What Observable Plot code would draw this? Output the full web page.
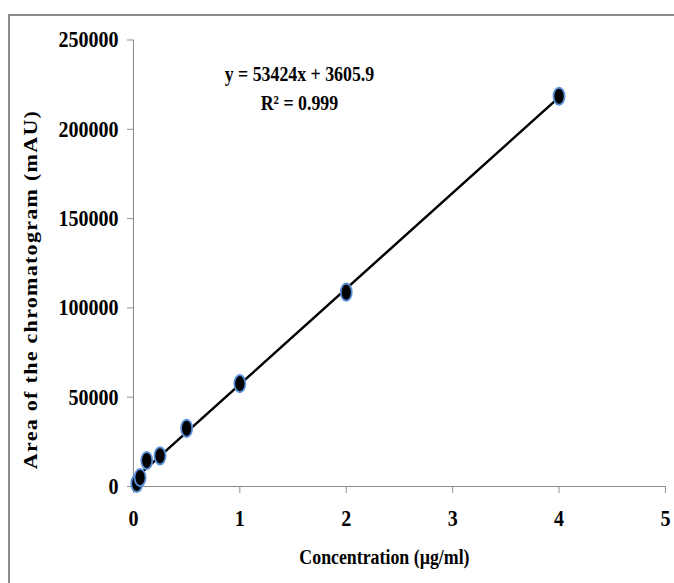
<!DOCTYPE html>
<html>
<head>
<meta charset="utf-8">
<script src="https://cdn.jsdelivr.net/npm/d3@7"></script>
<script src="https://cdn.jsdelivr.net/npm/@observablehq/plot@0.6"></script>
<style>
  html, body { margin: 0; padding: 0; background: #fff; }
  #wrap { position: relative; width: 674px; height: 583px; overflow: hidden; }
  #box { position: absolute; left: 8px; top: 14px; width: 720px; height: 620px;
         border-left: 2px solid #8c8c8c; border-top: 2px solid #8c8c8c; }
  #chart { position: absolute; left: 0; top: 0; transform-origin: 0 0; }
  #chart svg { max-width: none !important; }
  #chart svg [aria-label*="axis"] line,
  #chart svg [aria-label*="axis"] path { stroke: #8a8a8a; }
</style>
</head>
<body>
<div id="wrap"><div id="box"></div><div id="chart"></div></div>
<script>
// Data
const concentration = [0.03125, 0.0625, 0.125, 0.25, 0.5, 1, 2, 4];      // µg/ml
const peakArea      = [1700, 5000, 14500, 17200, 32600, 57600, 108800, 218500]; // mAU
const xTicks = [0, 1, 2, 3, 4, 5];
const yTicks = [0, 50000, 100000, 150000, 200000, 250000];
const equationText = "y = 53424x + 3605.9\nR² = 0.999";
const xTitle = "Concentration (µg/ml)";
const yTitle = "Area of the chromatogram (mAU)";

const data = concentration.map((c, i) => ({x: c, y: peakArea[i]}));

// horizontal squeeze of the original picture
const K = 0.87;
const W = Math.round(674 / K);
const H = 583;
const mL = 133 / K;
const mR = W - 665 / K;
const mT = 39.5;
const mB = H - 486;

// ellipse marker (taller than wide)
const ellipse = {
  draw(ctx, size) {
    const r = Math.sqrt(size / Math.PI);
    const rx = r * 0.74, ry = r, c = 0.5523;
    ctx.moveTo(rx, 0);
    ctx.bezierCurveTo(rx, c * ry, c * rx, ry, 0, ry);
    ctx.bezierCurveTo(-c * rx, ry, -rx, c * ry, -rx, 0);
    ctx.bezierCurveTo(-rx, -c * ry, -c * rx, -ry, 0, -ry);
    ctx.bezierCurveTo(c * rx, -ry, rx, -c * ry, rx, 0);
    ctx.closePath();
  }
};

const frameMidX = (mL + (W - mR)) / 2;
// y-title anchor: pixel target converted into data units
const pxPerX = ((W - mR) - mL) / 5;
const pxPerY = (H - mB - mT) / 250000;
const yTitlePos = [{x: (30 / K - mL) / pxPerX, y: (H - mB - 289) / pxPerY, t: yTitle}];

const plot = Plot.plot({
  width: W,
  height: H,
  marginLeft: mL,
  marginRight: mR,
  marginTop: mT,
  marginBottom: mB,
  style: {fontFamily: "'Liberation Serif', 'Times New Roman', serif", fontSize: "23px", fontWeight: "bold", color: "black", background: "transparent", overflow: "visible"},
  x: {domain: [0, 5], ticks: xTicks, tickSize: 7, tickPadding: 16, tickFormat: d3.format("d"), label: null},
  y: {domain: [0, 250000], ticks: yTicks, tickSize: 6.9, tickPadding: 10.3, tickFormat: d3.format("d"), label: null},
  marks: [
    Plot.ruleY([0], {stroke: "#8a8a8a", strokeWidth: 1.2}),
    Plot.ruleX([0], {stroke: "#8a8a8a", strokeWidth: 1.2}),
    Plot.linearRegressionY(data, {x: "x", y: "y", stroke: "black", strokeWidth: 2.6, ci: 0}),
    Plot.dot(data, {x: "x", y: "y", r: 8.6, symbol: ellipse, fill: "black", stroke: "#5a8fd8", strokeWidth: 2}),
    Plot.text([equationText], {frameAnchor: "top-left", dx: 299 / K - mL, dy: 86 - mT, textAnchor: "middle", lineAnchor: "middle", lineHeight: 1.4, fontSize: 20.5, fontWeight: "bold"}),
    Plot.text([xTitle], {frameAnchor: "bottom", dx: 384 / K - frameMidX, dy: 71, lineAnchor: "middle", fontSize: 20.5, fontWeight: "bold"}),
    Plot.text(yTitlePos, {x: "x", y: "y", text: "t", rotate: -90, textAnchor: "middle", lineAnchor: "middle", fontSize: 22, fontWeight: "bold", clip: false})
  ]
});
// slightly wider letter spacing of the vertical axis title, as in the reference
plot.querySelectorAll("text").forEach(t => {
  if (t.textContent === yTitle) t.style.letterSpacing = "1.3px";
});
const chart = document.getElementById("chart");
chart.style.width = W + "px";
chart.style.transform = `scaleX(${K})`;
chart.appendChild(plot);
</script>
</body>
</html>
